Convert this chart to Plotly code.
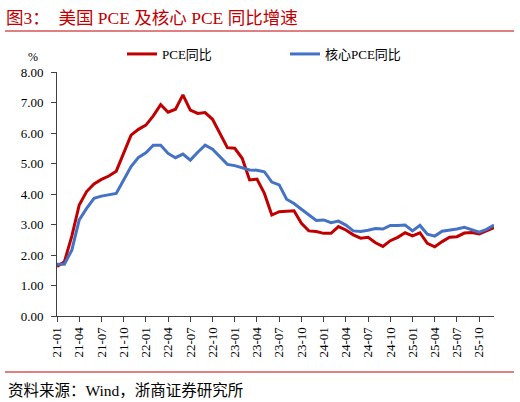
import plotly.graph_objects as go

# months 21-01 .. 25-12
months = ['%02d-%02d' % (y, m) for y in range(21, 26) for m in range(1, 13)]

pce = [1.62, 1.78, 2.62, 3.64, 4.08, 4.33, 4.48, 4.59, 4.75, 5.33, 5.93, 6.12,
       6.26, 6.56, 6.93, 6.68, 6.78, 7.25, 6.75, 6.64, 6.67, 6.45, 6.01, 5.52,
       5.50, 5.17, 4.46, 4.49, 4.02, 3.31, 3.42, 3.44, 3.45, 3.04, 2.79, 2.77,
       2.71, 2.71, 2.93, 2.82, 2.66, 2.55, 2.58, 2.40, 2.28, 2.47, 2.58, 2.73,
       2.63, 2.73, 2.38, 2.27, 2.44, 2.58, 2.60, 2.72, 2.74, 2.69, 2.79, 2.90]

core = [1.70, 1.70, 2.16, 3.15, 3.53, 3.86, 3.93, 3.97, 4.02, 4.46, 4.90, 5.20,
        5.35, 5.60, 5.60, 5.33, 5.19, 5.31, 5.11, 5.37, 5.60, 5.47, 5.22, 4.97,
        4.93, 4.85, 4.79, 4.78, 4.73, 4.39, 4.30, 3.83, 3.69, 3.50, 3.31, 3.13,
        3.15, 3.06, 3.11, 2.98, 2.79, 2.77, 2.81, 2.87, 2.85, 2.97, 2.97, 2.98,
        2.79, 2.97, 2.68, 2.62, 2.78, 2.81, 2.85, 2.91, 2.82, 2.75, 2.84, 2.98]

tick_months = months[::3]
yticks = [0, 1, 2, 3, 4, 5, 6, 7, 8]

serif = 'Liberation Serif, Noto Sans CJK SC'
red = '#C00000'
blue = '#4472C4'

fig = go.Figure()
fig.add_trace(go.Scatter(x=months, y=pce, mode='lines', name='PCE同比',
                         line=dict(color=red, width=3)))
fig.add_trace(go.Scatter(x=months, y=core, mode='lines', name='核心PCE同比',
                         line=dict(color=blue, width=3)))

fig.update_layout(
    width=520, height=402,
    margin=dict(l=57, r=26, t=72, b=86),
    paper_bgcolor='white', plot_bgcolor='white',
    font=dict(family=serif, size=13, color='#000000'),
    showlegend=True,
    legend=dict(orientation='h', x=(122 - 57) / 437, y=(316 - 54) / 244,
                xanchor='left', yanchor='middle',
                entrywidth=118, entrywidthmode='pixels',
                font=dict(family=serif, size=13), bgcolor='rgba(0,0,0,0)'),
    xaxis=dict(type='category', range=[0, len(months) - 1],
               tickvals=tick_months, ticktext=tick_months, tickangle=-90,
               ticks='outside', ticklen=5, tickcolor='#404040',
               showline=True, linecolor='#404040', linewidth=1,
               showgrid=False, zeroline=False,
               tickfont=dict(family=serif, size=13, color='#000000')),
    yaxis=dict(range=[0, 8], tickvals=yticks, tickformat='.2f',
               ticks='outside', ticklen=5, tickcolor='#404040',
               showline=True, linecolor='#404040', linewidth=1,
               showgrid=False, zeroline=False, ticklabelstandoff=5,
               tickfont=dict(family=serif, size=13, color='#000000')),
)

# title, separator lines, unit and source note
fig.add_annotation(text='图3：  美国 PCE 及核心 PCE 同比增速', xref='paper', yref='paper',
                   x=(4 - 57) / 437, y=(316 - 18) / 244, xanchor='left', yanchor='middle',
                   showarrow=False, font=dict(family=serif, size=17.5, color=red))
fig.add_shape(type='line', xref='paper', yref='paper',
              x0=(5 - 57) / 437, x1=(514 - 57) / 437,
              y0=(316 - 31) / 244, y1=(316 - 31) / 244,
              line=dict(color=red, width=1))
fig.add_shape(type='line', xref='paper', yref='paper',
              x0=(5 - 57) / 437, x1=(514 - 57) / 437,
              y0=(316 - 372) / 244, y1=(316 - 372) / 244,
              line=dict(color=red, width=1))
fig.add_annotation(text='%', xref='paper', yref='paper',
                   x=(33 - 57) / 437, y=(316 - 57) / 244, xanchor='center', yanchor='middle',
                   showarrow=False, font=dict(family=serif, size=12))
fig.add_annotation(text='资料来源：Wind，浙商证券研究所', xref='paper', yref='paper',
                   x=(6 - 57) / 437, y=(316 - 390) / 244, xanchor='left', yanchor='middle',
                   showarrow=False, font=dict(family=serif, size=15.5))

# drop the browser's default body margin so the figure sits at the page corner
fig.write_html("out.html", config={'displayModeBar': False},
               post_script="document.body.style.margin='0';")
